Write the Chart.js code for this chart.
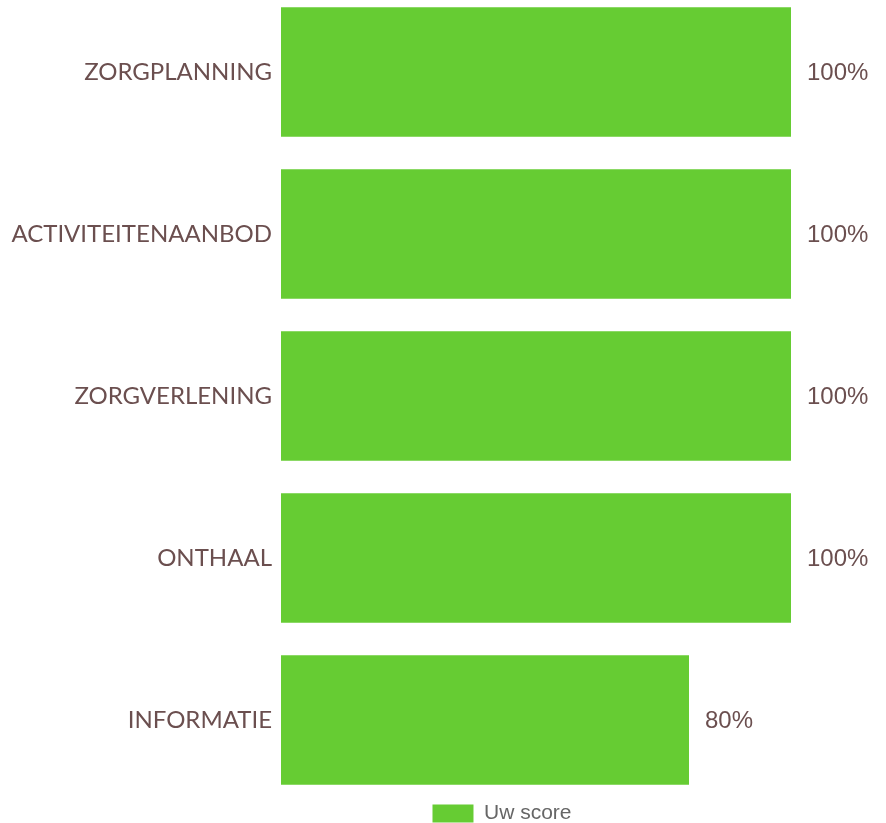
<!DOCTYPE html>
<html>
<head>
<meta charset="utf-8">
<script src="https://cdn.jsdelivr.net/npm/chart.js@4.4.1/dist/chart.umd.min.js"></script>
<style>
  html, body { margin: 0; padding: 0; background: #ffffff; overflow: hidden; }
  #wrap { position: absolute; left: 0; top: -9px; width: 886px; height: 832px; }
</style>
</head>
<body>
<div id="wrap"><canvas id="scoreChart"></canvas></div>
<script>
// Categorieën en scores
const categories = ['ZORGPLANNING', 'ACTIVITEITENAANBOD', 'ZORGVERLENING', 'ONTHAAL', 'INFORMATIE'];
const scores = [100, 100, 100, 100, 80];
const seriesLabel = 'Uw score';

const BAR_COLOR = '#66cc33';
const TEXT_COLOR = '#6b4f4f';

// percentages rechts van de balken
const valueLabels = {
    id: 'valueLabels',
    afterDatasetsDraw(chart) {
        const ctx = chart.ctx;
        const meta = chart.getDatasetMeta(0);
        ctx.save();
        ctx.font = '24px "Liberation Sans", Arial, sans-serif';
        ctx.fillStyle = TEXT_COLOR;
        ctx.textAlign = 'left';
        ctx.textBaseline = 'middle';
        meta.data.forEach((bar, i) => {
            ctx.fillText(scores[i] + '%', bar.x + 16, bar.y + 1);
        });
        ctx.restore();
    }
};

// legende iets naar rechts schuiven
const legendShift = {
    id: 'legendShift',
    afterLayout(chart) {
        if (chart.legend) chart.legend.left += 213;
    }
};

new Chart(document.getElementById('scoreChart'), {
    type: 'bar',
    data: {
        labels: categories,
        datasets: [{
            label: seriesLabel,
            data: scores,
            backgroundColor: BAR_COLOR,
            borderWidth: 0,
            barPercentage: 0.8,
            categoryPercentage: 1.0
        }]
    },
    options: {
        indexAxis: 'y',
        responsive: true,
        maintainAspectRatio: false,
        animation: false,
        layout: { padding: { left: 0, right: 95, top: 0, bottom: -11 } },
        scales: {
            x: { min: 0, max: 100, display: false },
            y: {
                grid: { display: false, drawTicks: false },
                border: { display: false },
                ticks: {
                    color: TEXT_COLOR,
                    padding: 9,
                    font: { family: 'Lato', size: 24 }
                },
                afterFit(scale) {
                    scale.width = 281;
                    scale.paddingTop = 0;
                    scale.paddingBottom = 0;
                }
            }
        },
        plugins: {
            legend: {
                position: 'bottom',
                labels: {
                    color: '#666666',
                    boxWidth: 41,
                    boxHeight: 18,
                    padding: 2,
                    font: { family: '"Liberation Sans", Arial, sans-serif', size: 21 }
                }
            },
            tooltip: { enabled: false }
        }
    },
    plugins: [valueLabels, legendShift]
});
</script>
</body>
</html>
